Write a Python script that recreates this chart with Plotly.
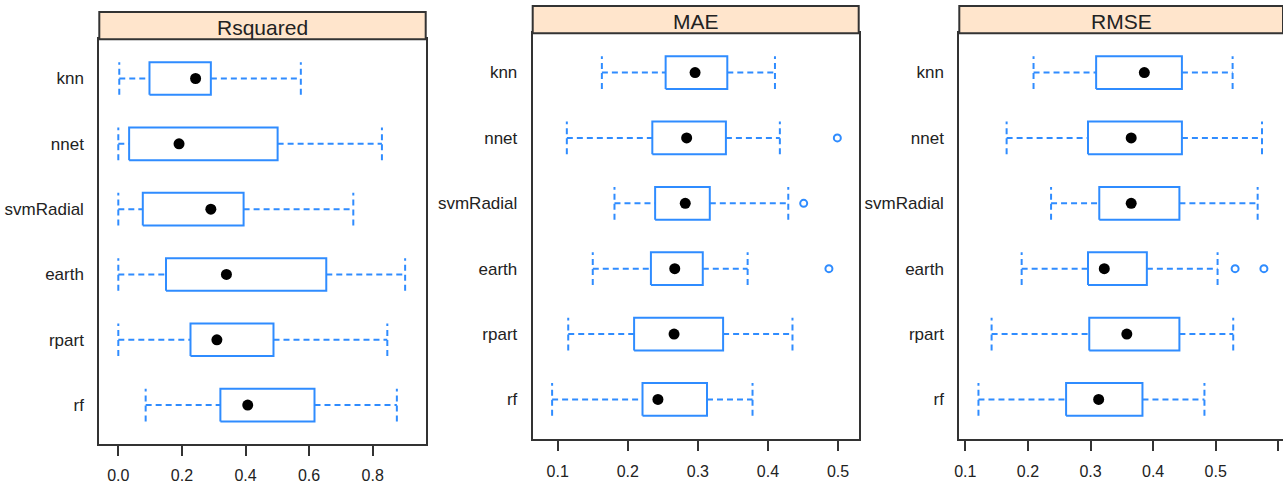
import plotly.graph_objects as go

# ---------------- data ----------------
models = ["knn", "nnet", "svmRadial", "earth", "rpart", "rf"]   # top to bottom
metrics = ["Rsquared", "MAE", "RMSE"]

rsq_low = [0.003, 0.000, 0.000, 0.000, 0.000, 0.086]
rsq_q1 = [0.098, 0.034, 0.077, 0.150, 0.227, 0.321]
rsq_med = [0.243, 0.191, 0.291, 0.340, 0.310, 0.407]
rsq_q3 = [0.291, 0.501, 0.394, 0.654, 0.488, 0.617]
rsq_high = [0.574, 0.829, 0.739, 0.902, 0.846, 0.876]
rsq_out = [[], [], [], [], [], []]

mae_low = [0.163, 0.113, 0.181, 0.150, 0.115, 0.092]
mae_q1 = [0.254, 0.235, 0.239, 0.233, 0.209, 0.221]
mae_med = [0.296, 0.284, 0.282, 0.267, 0.266, 0.243]
mae_q3 = [0.342, 0.340, 0.317, 0.307, 0.336, 0.313]
mae_high = [0.410, 0.417, 0.429, 0.371, 0.435, 0.378]
mae_out = [[], [0.499], [0.451], [0.487], [], []]

rmse_low = [0.209, 0.166, 0.237, 0.190, 0.142, 0.121]
rmse_q1 = [0.309, 0.296, 0.314, 0.296, 0.298, 0.261]
rmse_med = [0.386, 0.365, 0.365, 0.322, 0.358, 0.313]
rmse_q3 = [0.446, 0.446, 0.442, 0.390, 0.442, 0.383]
rmse_high = [0.527, 0.574, 0.567, 0.503, 0.528, 0.482]
rmse_out = [[], [], [], [0.531, 0.577], [], []]

rsq_ticks = [0.0, 0.2, 0.4, 0.6, 0.8]
rsq_ticktext = ["0.0", "0.2", "0.4", "0.6", "0.8"]
mae_ticks = [0.1, 0.2, 0.3, 0.4, 0.5]
mae_ticktext = ["0.1", "0.2", "0.3", "0.4", "0.5"]
rmse_ticks = [0.1, 0.2, 0.3, 0.4, 0.5, 0.6]
rmse_ticktext = ["0.1", "0.2", "0.3", "0.4", "0.5", ""]

panels = [
    (rsq_low, rsq_q1, rsq_med, rsq_q3, rsq_high, rsq_out, rsq_ticks, rsq_ticktext),
    (mae_low, mae_q1, mae_med, mae_q3, mae_high, mae_out, mae_ticks, mae_ticktext),
    (rmse_low, rmse_q1, rmse_med, rmse_q3, rmse_high, rmse_out, rmse_ticks, rmse_ticktext),
]

# ---------------- style / layout ----------------
BLUE = "#2f8cff"
FRAME = "#333333"
STRIP = "#ffe5cc"
FONT = "Liberation Sans, Arial, sans-serif"
W, H = 1283, 483
HALF = 0.25

x_ranges = [[-0.0598, 0.9667], [0.0643, 0.5295], [0.0904, 0.6075]]
x_domains = [[99.3 / W, 425.7 / W], [532.7 / W, 858.7 / W], [959.3 / W, 1.0]]
# (plot top px, plot bottom px, strip top px)
y_px = [(39.3, 444.3, 12.0), (33.3, 438.7, 6.0), (33.3, 438.7, 6.0)]
x_standoff = [5, 7, 7]

n = len(models)
pos = [n - i for i in range(n)]  # knn at top

fig = go.Figure()
shapes = []
annotations = []

for p, (lo, q1, med, q3, hi, outl, tv, tt) in enumerate(panels):
    xa = "x" if p == 0 else f"x{p+1}"
    ya = "y" if p == 0 else f"y{p+1}"
    # boxes
    bx, by = [], []
    for i in range(n):
        c = pos[i]
        bx += [q1[i], q3[i], q3[i], q1[i], q1[i], None]
        by += [c - HALF, c - HALF, c + HALF, c + HALF, c - HALF, None]
    fig.add_trace(go.Scatter(x=bx, y=by, mode="lines", xaxis=xa, yaxis=ya,
                             line=dict(color=BLUE, width=2), hoverinfo="skip",
                             showlegend=False))
    # whiskers (dashed)
    wx, wy = [], []
    for i in range(n):
        c = pos[i]
        wx += [lo[i], q1[i], None, q3[i], hi[i], None,
               lo[i], lo[i], None, hi[i], hi[i], None]
        wy += [c, c, None, c, c, None,
               c - HALF, c + HALF, None, c - HALF, c + HALF, None]
    fig.add_trace(go.Scatter(x=wx, y=wy, mode="lines", xaxis=xa, yaxis=ya,
                             line=dict(color=BLUE, width=2, dash="6px,4px"),
                             hoverinfo="skip", showlegend=False))
    # outliers
    ox, oy = [], []
    for i in range(n):
        for v in outl[i]:
            ox.append(v)
            oy.append(pos[i])
    if ox:
        fig.add_trace(go.Scatter(x=ox, y=oy, mode="markers", xaxis=xa, yaxis=ya,
                                 marker=dict(symbol="circle-open", size=7,
                                             color=BLUE, line=dict(width=2)),
                                 showlegend=False))
    # medians
    fig.add_trace(go.Scatter(x=med, y=pos, mode="markers", xaxis=xa, yaxis=ya,
                             marker=dict(symbol="circle", size=11, color="black"),
                             showlegend=False))

    top, bot, stop = y_px[p]
    ydom = [(H - bot) / H, (H - top) / H]
    xkey = "xaxis" if p == 0 else f"xaxis{p+1}"
    ykey = "yaxis" if p == 0 else f"yaxis{p+1}"
    fig.layout[xkey] = dict(
        domain=x_domains[p], anchor=ya, range=x_ranges[p], automargin=False,
        showgrid=False, zeroline=False, showline=True, mirror=True,
        linecolor=FRAME, linewidth=2, ticks="outside", ticklen=10,
        tickwidth=1.8, tickcolor=FRAME, tickvals=tv, ticktext=tt,
        tickfont=dict(family=FONT, size=16, color="#222222"),
        ticklabelstandoff=x_standoff[p],
    )
    fig.layout[ykey] = dict(
        domain=ydom, anchor=xa, range=[0.4, n + 0.6], automargin=False,
        showgrid=False, zeroline=False, showline=True, mirror=(p < 2),
        linecolor=FRAME, linewidth=2, ticks="", tickvals=pos, ticktext=models,
        tickfont=dict(family=FONT, size=17, color="#222222"),
        ticklabelstandoff=10,
    )
    # strip header
    shapes.append(dict(type="rect", xref=f"{xa} domain", yref="paper",
                       x0=0, x1=1, y0=(H - top) / H, y1=(H - stop) / H,
                       fillcolor=STRIP, line=dict(color=FRAME, width=2),
                       layer="above"))
    annotations.append(dict(text=metrics[p], xref=f"{xa} domain", yref="paper",
                            x=0.5, y=(H - (top + stop) / 2 - 1.5) / H,
                            xanchor="center", yanchor="middle", showarrow=False,
                            font=dict(family=FONT, size=21, color="#222222")))

fig.update_layout(
    width=W, height=H, margin=dict(l=0, r=0, t=0, b=0),
    paper_bgcolor="white", plot_bgcolor="white",
    shapes=shapes, annotations=annotations, showlegend=False,
)

fig.write_html("out.html", config={"displayModeBar": False},
               post_script="document.body.style.margin='0';document.body.style.overflow='hidden';")
